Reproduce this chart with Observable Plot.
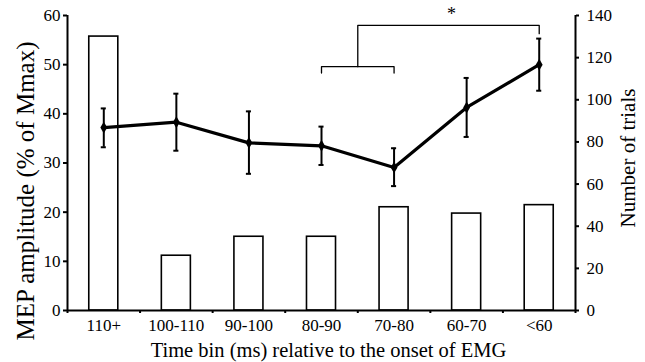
<!DOCTYPE html>
<html>
<head>
<meta charset="utf-8">
<script src="https://cdn.jsdelivr.net/npm/d3@7"></script>
<script src="https://cdn.jsdelivr.net/npm/@observablehq/plot@0.6"></script>
<style>
  html, body { margin: 0; padding: 0; background: white; }
  svg text { font-family: 'Liberation Serif', 'Times New Roman', serif; }
</style>
</head>
<body>
<div id="chart"></div>
<script>
// ---- data ----
const categories = ["110+", "100-110", "90-100", "80-90", "70-80", "60-70", "<60"];
const trials = [130, 26, 35, 35, 49, 46, 50];            // right axis (Number of trials)
const mepMean = [37.2, 38.3, 34.1, 33.5, 29.1, 41.3, 50.0]; // left axis (% of Mmax)
const mepHigh = [41.1, 44.1, 40.5, 37.4, 33.0, 47.3, 55.3];
const mepLow  = [33.2, 32.5, 27.8, 29.6, 25.3, 35.3, 44.7];
const leftTicks = [0, 10, 20, 30, 40, 50, 60];
const rightTicks = [0, 20, 40, 60, 80, 100, 120, 140];
// significance annotation: bins 80-90 & 70-80 pooled vs <60
const sigGroup = [3, 4];
const sigTarget = 6;
const sigLabel = "*";
const sigLowLevel = 49.6, sigLowDrop = 48.3;
const sigHighLevel = 58.0, sigHighDrop = 56.3;

const leftMax = 60, rightMax = 140;
const toLeft = v => v * leftMax / rightMax;

const rows = categories.map((c, i) => ({
  i, c, n: trials[i], m: mepMean[i], hi: mepHigh[i], lo: mepLow[i]
}));

const groupMid = (sigGroup[0] + sigGroup[1]) / 2;
const lowBracket = [[sigGroup[0], sigLowDrop], [sigGroup[0], sigLowLevel], [sigGroup[1], sigLowLevel], [sigGroup[1], sigLowDrop]];
const highBracket = [[groupMid, sigLowLevel], [groupMid, sigHighLevel], [sigTarget, sigHighLevel], [sigTarget, sigHighDrop]];

const serif = "'Liberation Serif', 'Times New Roman', serif";

const chart = Plot.plot({
  width: 645,
  height: 362,
  marginLeft: 67,
  marginRight: 70,
  marginTop: 15,
  marginBottom: 52,
  style: "font-family: 'Liberation Serif', 'Times New Roman', serif; font-size: 17px; color: black; background: white;",
  x: {type: "linear", domain: [-0.5, categories.length - 0.5]},
  y: {domain: [0, leftMax]},
  marks: [
    // bars: number of trials
    Plot.rect(rows, {
      x1: d => d.i - 0.2, x2: d => d.i + 0.2,
      y1: 0, y2: d => toLeft(d.n),
      fill: "white", stroke: "black", strokeWidth: 1.6
    }),
    // axes
    Plot.axisY({ticks: leftTicks, tickSize: 4, tickPadding: 3, strokeWidth: 2, label: null, fontSize: 17}),
    Plot.axisY({
      anchor: "right", ticks: rightTicks.map(toLeft),
      tickFormat: v => String(Math.round(v * rightMax / leftMax)),
      tickSize: 3, tickPadding: 8, strokeWidth: 2, label: null, fontSize: 17
    }),
    Plot.axisX({ticks: d3.range(categories.length), tickFormat: i => categories[i], tickSize: 0, tickPadding: 8, label: null, fontSize: 17}),
    Plot.axisX({ticks: d3.range(-0.5, categories.length, 1), tickFormat: () => "", tickSize: 3, strokeWidth: 2, label: null}),
    Plot.ruleX([-0.5, categories.length - 0.5], {strokeWidth: 2}),
    Plot.ruleY([0], {strokeWidth: 2}),
    // error bars
    Plot.ruleX(rows, {x: "i", y1: "lo", y2: "hi", strokeWidth: 2}),
    Plot.ruleY(rows, {y: "hi", x1: d => d.i - 0.035, x2: d => d.i + 0.035, strokeWidth: 2}),
    Plot.ruleY(rows, {y: "lo", x1: d => d.i - 0.035, x2: d => d.i + 0.035, strokeWidth: 2}),
    // mean MEP line
    Plot.line(rows, {x: "i", y: "m", stroke: "black", strokeWidth: 3.2}),
    Plot.dot(rows, {x: "i", y: "m", symbol: "diamond", r: 3.6, fill: "black"}),
    // significance brackets
    Plot.line(lowBracket, {x: d => d[0], y: d => d[1], stroke: "black", strokeWidth: 1.3}),
    Plot.line(highBracket, {x: d => d[0], y: d => d[1], stroke: "black", strokeWidth: 1.3}),
    Plot.text([sigLabel], {x: (groupMid + sigTarget) / 2, y: sigHighLevel, dy: -11, dx: 3, fontSize: 18, fontFamily: serif, textAnchor: "middle", lineAnchor: "middle"}),
    // axis titles
    Plot.text(["MEP amplitude (% of Mmax)"], {frameAnchor: "left", rotate: -90, dx: -42, dy: 28, fontSize: 25, fontFamily: serif, textAnchor: "middle", lineAnchor: "middle"}),
    Plot.text(["Number of trials"], {frameAnchor: "right", rotate: -90, dx: 53, dy: -5, fontSize: 21, fontFamily: serif, textAnchor: "middle", lineAnchor: "middle"}),
    Plot.text(["Time bin (ms) relative to the onset of EMG"], {frameAnchor: "bottom", dx: 7, dy: 40, fontSize: 20.5, fontFamily: serif, textAnchor: "middle", lineAnchor: "middle"})
  ]
});

document.getElementById("chart").appendChild(chart);
</script>
</body>
</html>
